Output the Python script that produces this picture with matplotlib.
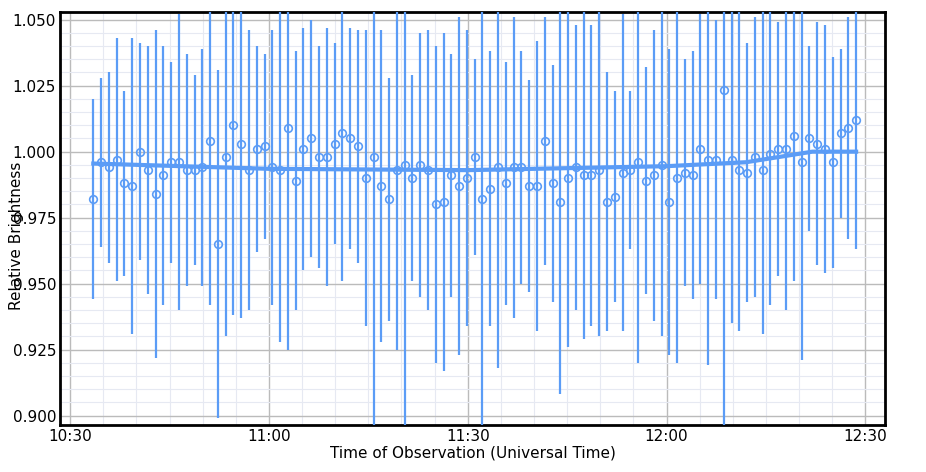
import numpy as np
import matplotlib.pyplot as plt

# relative brightness per observation
bright = [0.982, 0.996, 0.994, 0.997, 0.988, 0.987, 1.000, 0.993, 0.984, 0.991,
          0.996, 0.996, 0.993, 0.993, 0.994, 1.004, 0.965, 0.998, 1.010, 1.003,
          0.993, 1.001, 1.002, 0.994, 0.993, 1.009, 0.989, 1.001, 1.005, 0.998,
          0.998, 1.003, 1.007, 1.005, 1.002, 0.990, 0.998, 0.987, 0.982, 0.993,
          0.995, 0.990, 0.995, 0.993, 0.980, 0.981, 0.991, 0.987, 0.990, 0.998,
          0.982, 0.986, 0.994, 0.988, 0.994, 0.994, 0.987, 0.987, 1.004, 0.988,
          0.981, 0.990, 0.994, 0.991, 0.991, 0.993, 0.981, 0.983, 0.992, 0.993,
          0.996, 0.989, 0.991, 0.995, 0.981, 0.990, 0.992, 0.991, 1.001, 0.997,
          0.997, 1.0235, 0.997, 0.993, 0.992, 0.998, 0.993, 0.999, 1.001, 1.001,
          1.006, 0.996, 1.005, 1.003, 1.001, 0.996, 1.007, 1.009, 1.012]
# lower end of each error bar
lower = [0.944, 0.964, 0.958, 0.951, 0.953, 0.931, 0.959, 0.946, 0.922, 0.942,
         0.958, 0.940, 0.949, 0.957, 0.949, 0.942, 0.899, 0.930, 0.938, 0.937,
         0.940, 0.962, 0.967, 0.942, 0.928, 0.925, 0.940, 0.955, 0.960, 0.956,
         0.949, 0.965, 0.951, 0.963, 0.958, 0.934, 0.885, 0.928, 0.936, 0.925,
         0.885, 0.951, 0.945, 0.940, 0.920, 0.917, 0.945, 0.923, 0.934, 0.961,
         0.885, 0.934, 0.918, 0.942, 0.937, 0.950, 0.947, 0.932, 0.957, 0.943,
         0.908, 0.926, 0.940, 0.929, 0.934, 0.930, 0.932, 0.943, 0.932, 0.963,
         0.920, 0.946, 0.936, 0.930, 0.923, 0.920, 0.949, 0.944, 0.950, 0.919,
         0.944, 0.890, 0.935, 0.932, 0.943, 0.945, 0.931, 0.942, 0.953, 0.940,
         0.951, 0.921, 0.970, 0.957, 0.954, 0.956, 0.975, 0.967, 0.963]

# observation times in minutes after midnight UT, regular cadence
t_start, t_end = 10 * 60 + 33.5, 12 * 60 + 28.6
times = np.linspace(t_start, t_end, len(bright))

# smooth model curve
trend_t = [t_start, 660, 690, 720, 732, 742, t_end]
trend_y = [0.9955, 0.9935, 0.993, 0.9945, 0.996, 1.000, 1.000]

bright = np.array(bright)
err = bright - np.array(lower)

col = '#5b9cf6'
fig = plt.figure(figsize=(9.26, 4.72), dpi=100)
ax = fig.add_axes([0.065, 0.10, 0.891, 0.875])
ax.errorbar(times, bright, yerr=err, fmt='o', mfc='none', mec=col, ms=5.5,
            mew=1.2, ecolor=col, elinewidth=1.6, capsize=0, zorder=3)
ax.plot(trend_t, trend_y, color=col, lw=3, zorder=4)

ax.set_xlim(10 * 60 + 28.5, 12 * 60 + 33)
ax.set_ylim(0.8965, 1.053)
xt = [630, 660, 690, 720, 750]
ax.set_xticks(xt)
ax.set_xticklabels(['%d:%02d' % (m // 60, m % 60) for m in xt])
ax.set_yticks([0.900, 0.925, 0.950, 0.975, 1.000, 1.025, 1.050])
ax.set_yticklabels(['0.900', '0.925', '0.950', '0.975', '1.000', '1.025', '1.050'])
ax.set_xticks(np.arange(635, 753, 5), minor=True)
ax.set_yticks(np.arange(0.900, 1.053, 0.005), minor=True)
ax.grid(True, which='major', color='#bbbbbb', lw=1)
ax.grid(True, which='minor', color='#e6e9f2', lw=0.8)
ax.set_axisbelow(True)
ax.tick_params(which='both', length=0, labelsize=11, pad=3)
for s in ax.spines.values():
    s.set_linewidth(2)
ax.set_xlabel('Time of Observation (Universal Time)', fontsize=11, labelpad=1)
fig.text(0.018, 0.5, 'Relative Brightness', rotation=90, va='center',
         ha='center', fontsize=11)
fig.savefig('out.png')
